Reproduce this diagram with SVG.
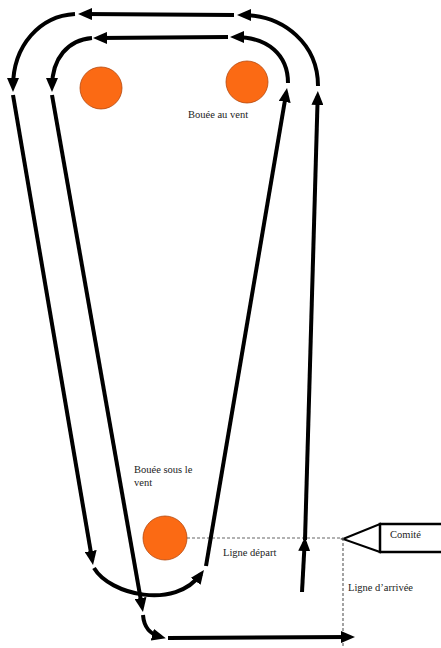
<svg xmlns="http://www.w3.org/2000/svg" width="441" height="648" viewBox="0 0 441 648">
<style>
.p{fill:none;stroke:#000;stroke-width:4;marker-end:url(#ah)}
.d{fill:none;stroke:#666;stroke-width:1.2;stroke-dasharray:3,2}
.b{fill:#fb6a14;stroke:#b5470c;stroke-width:0.8}
.t{font-family:"Liberation Serif","Times New Roman",serif;font-size:10.5px;fill:#222}
</style>
<defs>
<marker id="ah" markerUnits="userSpaceOnUse" markerWidth="14" markerHeight="12" refX="9" refY="6" orient="auto">
<path d="M0,0 L14,6 L0,12 z" fill="#000"/>
</marker>
</defs>
<rect width="441" height="648" fill="#fff"/>
<g id="buoys">
<g id="bouee-vent-gauche"><circle class="b" cx="101" cy="88" r="21"/></g>
<g id="bouee-au-vent"><circle class="b" cx="247" cy="82" r="21"/><text class="t" x="188" y="118">Bouée au vent</text></g>
<g id="bouee-sous-le-vent"><circle class="b" cx="165" cy="538" r="22"/><text class="t" x="134" y="473">Bouée sous le</text><text class="t" x="134" y="486">vent</text></g>
</g>
<g id="comite">
<polygon points="343,539 380,524 380,552" fill="#fff" stroke="#000" stroke-width="2"/>
<rect x="380" y="524" width="70" height="28" fill="#fff" stroke="#000" stroke-width="2.5"/>
<text class="t" x="390" y="538">Comité</text>
</g>
<g id="lignes">
<path class="d" d="M187,538 L343,538"/>
<path class="d" d="M343,538 L343,648"/>
<text class="t" x="223" y="556">Ligne départ</text>
<text class="t" x="348" y="591">Ligne d’arrivée</text>
</g>
<g id="connectors">
<path class="p" d="M234,15 L83,14"/>
<path class="p" d="M75,14 C40,16 13,45 13,87"/>
<path class="p" d="M13,95 L92.2,560"/>
<path class="p" d="M94,568 C110,595 175,610 201,574"/>
<path class="p" d="M206,566 L286.2,93"/>
<path class="p" d="M288,83 C288,55 268,37 235,37"/>
<path class="p" d="M228,37 L98,38"/>
<path class="p" d="M92,38 C68,40 52,58 52,87"/>
<path class="p" d="M52,95 L142.1,607"/>
<path class="p" d="M143,615 C144,628 150,634 161,637"/>
<path class="p" d="M168,638 L350,637"/>
<path class="p" d="M302,592 L304.7,542"/>
<path class="p" d="M305,540 L317.7,96"/>
<path class="p" d="M318,86 C318,45 285,15 242,15"/>
</g>
</svg>
